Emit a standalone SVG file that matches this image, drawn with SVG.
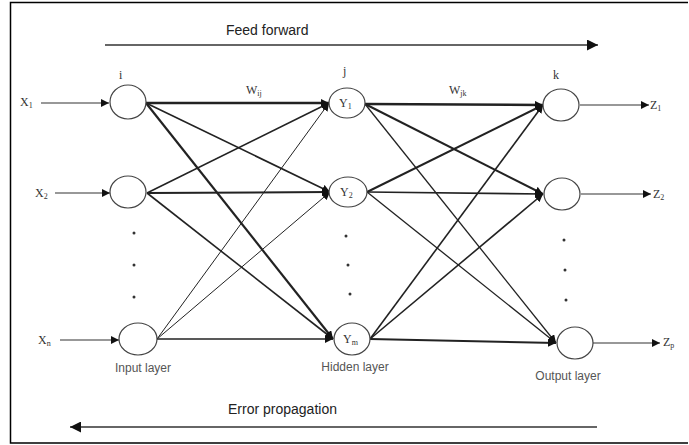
<svg xmlns="http://www.w3.org/2000/svg" width="689" height="445" viewBox="0 0 689 445">
<style>
.node{fill:#fff;stroke:#444;stroke-width:1.2}
.c{stroke:#222;stroke-width:1.6;fill:none}
.io{stroke:#333;stroke-width:1.2;fill:none}
.big{stroke:#333;stroke-width:1.6;fill:none}
.m{font-family:"Liberation Serif",serif;font-size:12px;fill:#333}
.s{font-size:8px}
.t{font-family:"Liberation Sans",Arial,sans-serif;font-size:14px;fill:#222}
.l{font-family:"Liberation Sans",Arial,sans-serif;font-size:12px;fill:#555}
.dot{fill:#333}
</style>
<defs>
<marker id="a" viewBox="0 0 10 10" refX="10" refY="5" markerWidth="8" markerHeight="8" markerUnits="userSpaceOnUse" orient="auto"><path d="M0,0 L10,5 L0,10 z" fill="#111"/></marker>
<marker id="b" viewBox="0 0 10 10" refX="10" refY="5" markerWidth="11" markerHeight="11" markerUnits="userSpaceOnUse" orient="auto"><path d="M0,0 L10,5 L0,10 z" fill="#111"/></marker>
</defs>
<path d="M688,2.5 H10.5 V443 H688" fill="none" stroke="#000" stroke-width="1.5"/>
<g id="flow">
<line class="big" x1="105" y1="45" x2="598" y2="45" marker-end="url(#b)"/>
<text class="t" x="226" y="35">Feed forward</text>
<line class="big" x1="597" y1="427" x2="70" y2="427" marker-end="url(#b)"/>
<text class="t" x="228" y="414">Error propagation</text>
</g>
<g id="connectors">
<line class="io" x1="41" y1="103" x2="109" y2="103" marker-end="url(#a)"/>
<line class="io" x1="55" y1="193" x2="110" y2="193" marker-end="url(#a)"/>
<line class="io" x1="60" y1="340" x2="119" y2="340" marker-end="url(#a)"/>
<line class="io" x1="580" y1="105" x2="649" y2="105" marker-end="url(#a)"/>
<line class="io" x1="581" y1="194" x2="651" y2="194" marker-end="url(#a)"/>
<line class="io" x1="593" y1="343" x2="660" y2="343" marker-end="url(#a)"/>
<line class="c" x1="146" y1="103" x2="329" y2="103" marker-end="url(#a)" style="stroke-width:2.4"/>
<line class="c" x1="146" y1="103" x2="330" y2="192" marker-end="url(#a)"/>
<line class="c" x1="146" y1="103" x2="333" y2="339" marker-end="url(#a)" style="stroke-width:2.2"/>
<line class="c" x1="147" y1="193" x2="329" y2="103" marker-end="url(#a)"/>
<line class="c" x1="147" y1="193" x2="330" y2="192" marker-end="url(#a)" style="stroke-width:2"/>
<line class="c" x1="147" y1="193" x2="333" y2="339" marker-end="url(#a)"/>
<line class="c" x1="157" y1="339" x2="329" y2="103" marker-end="url(#a)" style="stroke-width:1"/>
<line class="c" x1="157" y1="339" x2="330" y2="192" marker-end="url(#a)" style="stroke-width:1"/>
<line class="c" x1="157" y1="339" x2="333" y2="339" marker-end="url(#a)"/>
<line class="c" x1="365" y1="104" x2="543" y2="105" marker-end="url(#a)" style="stroke-width:2.4"/>
<line class="c" x1="365" y1="104" x2="543" y2="194" marker-end="url(#a)" style="stroke-width:2"/>
<line class="c" x1="365" y1="104" x2="556" y2="343" marker-end="url(#a)" style="stroke-width:1.3"/>
<line class="c" x1="367" y1="192" x2="543" y2="105" marker-end="url(#a)" style="stroke-width:2"/>
<line class="c" x1="367" y1="192" x2="543" y2="194" marker-end="url(#a)"/>
<line class="c" x1="367" y1="192" x2="556" y2="343" marker-end="url(#a)" style="stroke-width:1.3"/>
<line class="c" x1="370" y1="339" x2="543" y2="105" marker-end="url(#a)"/>
<line class="c" x1="370" y1="339" x2="543" y2="194" marker-end="url(#a)"/>
<line class="c" x1="370" y1="339" x2="556" y2="343" marker-end="url(#a)" style="stroke-width:2"/>
</g>
<g id="input-layer">
<ellipse class="node" cx="128" cy="102" rx="18" ry="17"/>
<ellipse class="node" cx="128" cy="192" rx="18" ry="16"/>
<ellipse class="node" cx="138" cy="339" rx="19" ry="16"/>
<text class="m" x="119" y="79">i</text>
<text class="m" x="20" y="106">X<tspan class="s" dy="2">1</tspan></text>
<text class="m" x="35" y="197">X<tspan class="s" dy="2">2</tspan></text>
<text class="m" x="38" y="344">X<tspan class="s" dy="2">n</tspan></text>
<circle class="dot" cx="134" cy="233" r="1.5"/>
<circle class="dot" cx="134" cy="265" r="1.5"/>
<circle class="dot" cx="134" cy="297" r="1.5"/>
<text class="l" x="143" y="372" text-anchor="middle">Input layer</text>
</g>
<g id="hidden-layer">
<ellipse class="node" cx="347" cy="103" rx="18" ry="15"/>
<ellipse class="node" cx="348" cy="192" rx="19" ry="15"/>
<ellipse class="node" cx="352" cy="339" rx="18" ry="16"/>
<text class="m" x="343" y="75">j</text>
<text class="m" x="339" y="107">Y<tspan class="s" dy="2">1</tspan></text>
<text class="m" x="340" y="196">Y<tspan class="s" dy="2">2</tspan></text>
<text class="m" x="343" y="343">Y<tspan class="s" dy="2">m</tspan></text>
<circle class="dot" cx="346" cy="236" r="1.5"/>
<circle class="dot" cx="348" cy="265" r="1.5"/>
<circle class="dot" cx="350" cy="294" r="1.5"/>
<text class="l" x="355" y="371" text-anchor="middle">Hidden layer</text>
</g>
<g id="output-layer">
<ellipse class="node" cx="561" cy="105" rx="18" ry="16"/>
<ellipse class="node" cx="562" cy="194" rx="18" ry="16"/>
<ellipse class="node" cx="575" cy="343" rx="18" ry="16"/>
<text class="m" x="553" y="79">k</text>
<text class="m" x="650" y="109">Z<tspan class="s" dy="2">1</tspan></text>
<text class="m" x="653" y="198">Z<tspan class="s" dy="2">2</tspan></text>
<text class="m" x="663" y="346">Z<tspan class="s" dy="2">p</tspan></text>
<circle class="dot" cx="564" cy="240" r="1.5"/>
<circle class="dot" cx="565" cy="270" r="1.5"/>
<circle class="dot" cx="566" cy="300" r="1.5"/>
<text class="l" x="568" y="380" text-anchor="middle">Output layer</text>
</g>
<g id="weights">
<text class="m" x="246" y="94">W<tspan class="s" dy="2">ij</tspan></text>
<text class="m" x="449" y="94">W<tspan class="s" dy="2">jk</tspan></text>
</g>
</svg>
